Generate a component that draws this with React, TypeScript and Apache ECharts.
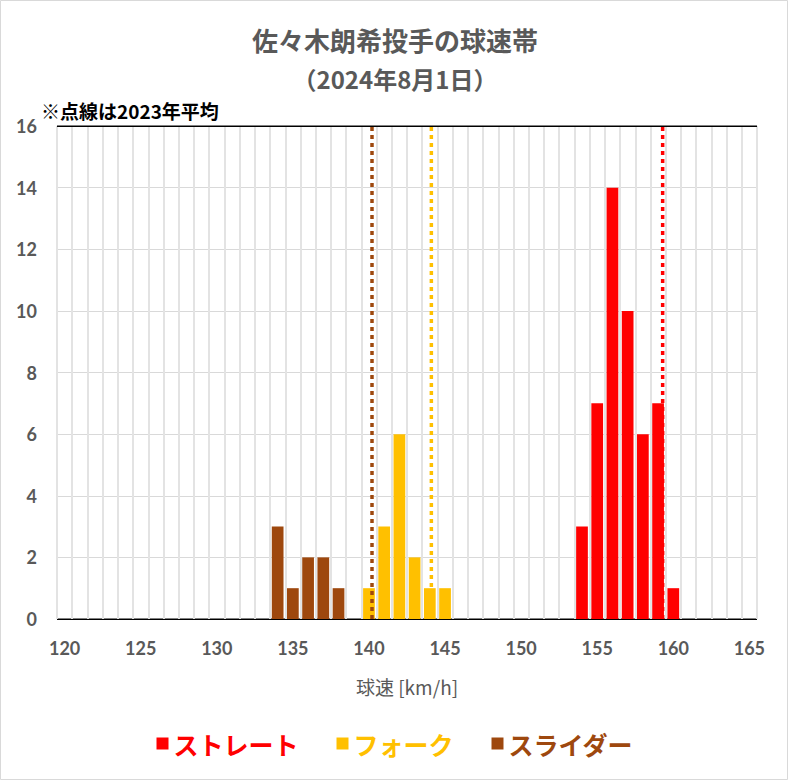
import React, { useEffect, useRef } from "react";
import * as echarts from "echarts";

const categories = [
  120, 121, 122, 123, 124, 125, 126, 127, 128, 129,
  130, 131, 132, 133, 134, 135, 136, 137, 138, 139,
  140, 141, 142, 143, 144, 145, 146, 147, 148, 149,
  150, 151, 152, 153, 154, 155, 156, 157, 158, 159,
  160, 161, 162, 163, 164, 165,
];

const straightSpeeds = [154, 155, 156, 157, 158, 159, 160];
const straightCounts = [3, 7, 14, 10, 6, 7, 1];

const forkSpeeds = [140, 141, 142, 143, 144, 145];
const forkCounts = [1, 3, 6, 2, 1, 1];

const sliderSpeeds = [134, 135, 136, 137, 138];
const sliderCounts = [3, 1, 2, 2, 1];

// 2023 averages (dotted lines)
const avg2023Straight = 159.3;
const avg2023Fork = 144.1;
const avg2023Slider = 140.2;

const yTicks = [0, 2, 4, 6, 8, 10, 12, 14, 16];

const RED = "#FF0000";
const YELLOW = "#FFC000";
const BROWN = "#9E480E";
const GRAY = "#595959";

function toCategoryData(speeds: number[], counts: number[]) {
  return categories.map((c) => {
    const i = speeds.indexOf(c);
    return i >= 0 ? counts[i] : null;
  });
}

export default function App() {
  const ref = useRef<HTMLDivElement>(null);

  useEffect(() => {
    if (!ref.current) return;
    const chart = echarts.init(ref.current, undefined, { renderer: "svg" });
    const jp = "'Noto Sans CJK JP', sans-serif";
    const num = "Lato, 'Noto Sans CJK JP', sans-serif";
    const yMax = yTicks[yTicks.length - 1];

    const avgLine = (name: string, x: number, color: string, z: number) => ({
      name,
      type: "line",
      xAxisIndex: 1,
      yAxisIndex: 0,
      data: [
        [x, 0],
        [x, yMax],
      ],
      symbol: "none",
      silent: true,
      z,
      lineStyle: { color, width: 3.5, type: [4, 4], cap: "butt" },
    });

    chart.setOption({
      animation: false,
      backgroundColor: "#fff",
      title: [
        {
          text: "佐々木朗希投手の球速帯",
          left: "center",
          top: 21,
          textStyle: { fontFamily: jp, fontSize: 26, fontWeight: "bold", color: GRAY },
        },
        {
          text: "（2024年8月1日）",
          left: "center",
          top: 61,
          textStyle: { fontFamily: jp, fontSize: 24, fontWeight: "bold", color: GRAY },
        },
      ],
      graphic: [
        {
          type: "rect",
          shape: { x: 0.5, y: 0.5, width: 787, height: 779 },
          style: { fill: "none", stroke: "#d9d9d9", lineWidth: 1 },
          silent: true,
        },
        {
          type: "text",
          left: 41,
          top: 101,
          style: {
            text: "※点線は2023年平均",
            fontFamily: jp,
            fontSize: 19,
            fontWeight: "bold",
            fill: "#000",
          },
        },
      ],
      legend: {
        bottom: 22,
        left: "center",
        icon: "rect",
        itemWidth: 12,
        itemHeight: 12,
        itemGap: 38,
        textStyle: { fontFamily: jp, fontSize: 25, fontWeight: "bold" },
        data: [
          { name: "ストレート", textStyle: { color: RED } },
          { name: "フォーク", textStyle: { color: YELLOW } },
          { name: "スライダー", textStyle: { color: BROWN } },
        ],
      },
      grid: {
        left: 57,
        right: 33,
        top: 126,
        bottom: 164,
        show: true,
        borderColor: "#000",
        borderWidth: 1,
        containLabel: false,
      },
      xAxis: [
        {
          type: "category",
          data: categories,
          boundaryGap: true,
          name: "球速 [km/h]",
          nameLocation: "middle",
          nameGap: 58,
          nameTextStyle: { fontFamily: jp, fontSize: 19, color: GRAY },
          axisLine: { show: false },
          axisTick: { show: false },
          axisLabel: {
            interval: 4,
            margin: 20,
            fontFamily: num,
            fontSize: 18,
            fontWeight: "bold",
            color: GRAY,
          },
          splitLine: { show: true, interval: 0, lineStyle: { color: "#e3e3e3", width: 2 } },
        },
        {
          type: "value",
          min: 119.5,
          max: 165.5,
          show: false,
          splitLine: { show: false },
        },
      ],
      yAxis: {
        type: "value",
        min: 0,
        max: yMax,
        interval: 2,
        axisLine: { show: false },
        axisTick: { show: false },
        axisLabel: {
          margin: 20,
          fontFamily: num,
          fontSize: 18,
          fontWeight: "bold",
          color: GRAY,
        },
        splitLine: { show: true, lineStyle: { color: "#d9d9d9", width: 1 } },
      },
      series: [
        {
          name: "ストレート",
          type: "bar",
          stack: "all",
          barWidth: "77%",
          z: 2,
          itemStyle: { color: RED },
          data: toCategoryData(straightSpeeds, straightCounts),
          markLine: {
            silent: true,
            symbol: "none",
            label: { show: false },
            lineStyle: { color: "#000", width: 1, type: "solid" },
            data: [{ yAxis: 0 }, { yAxis: yMax }],
          },
        },
        {
          name: "フォーク",
          type: "bar",
          stack: "all",
          barWidth: "77%",
          z: 2,
          itemStyle: { color: YELLOW },
          data: toCategoryData(forkSpeeds, forkCounts),
        },
        {
          name: "スライダー",
          type: "bar",
          stack: "all",
          barWidth: "77%",
          z: 2,
          itemStyle: { color: BROWN },
          data: toCategoryData(sliderSpeeds, sliderCounts),
        },
        avgLine("ストレート平均", avg2023Straight, RED, 1),
        avgLine("フォーク平均", avg2023Fork, YELLOW, 1),
        avgLine("スライダー平均", avg2023Slider, BROWN, 3),
      ],
    });

    return () => chart.dispose();
  }, []);

  return (
    <div
      ref={ref}
      style={{ position: "absolute", left: 0, top: 0, width: 790, height: 783 }}
    />
  );
}
